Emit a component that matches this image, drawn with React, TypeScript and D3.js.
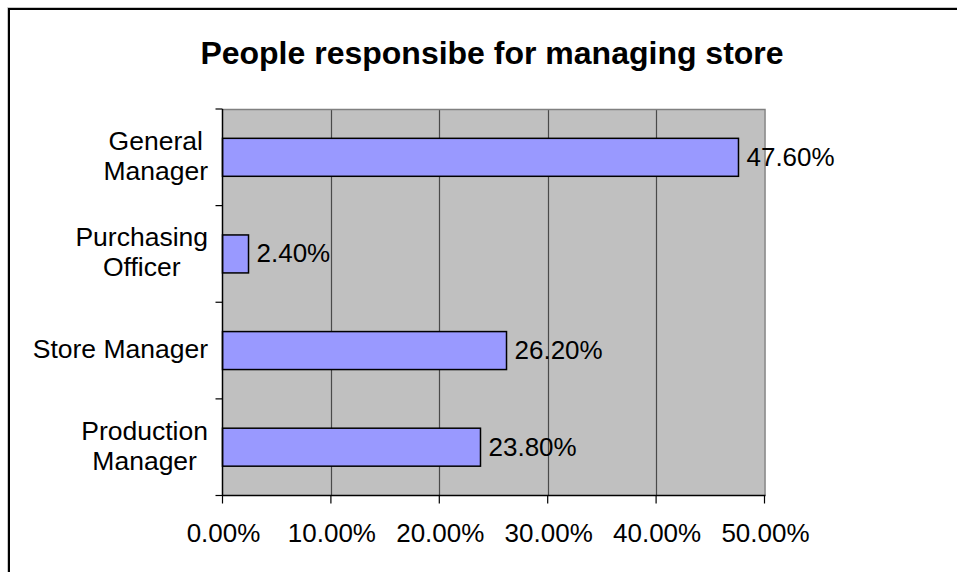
import React, { useEffect, useRef } from "react";
import * as d3 from "d3";

const title = "People responsibe for managing store";
const categories = ["General Manager", "Purchasing Officer", "Store Manager", "Production Manager"];
const categoryLines = [["General", "Manager"], ["Purchasing", "Officer"], ["Store Manager"], ["Production", "Manager"]];
const values = [0.476, 0.024, 0.262, 0.238];
const xTicks = [0, 0.1, 0.2, 0.3, 0.4, 0.5];

const FONT = "'Liberation Sans', Arial, Helvetica, sans-serif";

export default function App() {
  const ref = useRef<SVGSVGElement | null>(null);

  useEffect(() => {
    const svg = d3.select(ref.current);
    svg.selectAll("*").remove();
    const g = svg.append("g");

    const left = 222.5, right = 764.5, top = 109, bottom = 495.5;
    const x = d3.scaleLinear().domain([0, 0.5]).range([left, right]);
    const pi = 0.607;
    const y = d3.scaleBand<string>().domain(categories).range([top, bottom]).paddingInner(pi).paddingOuter(pi / 2);
    const step = y.step();

    // white page
    g.append("rect").attr("x", 0).attr("y", 0).attr("width", 957).attr("height", 572).attr("fill", "#fff");

    // outer chart border (only left and top edges are visible)
    g.append("path").attr("d", "M7.5,600V7.5H1000")
      .attr("fill", "none").attr("stroke", "#c8c8c8").attr("stroke-width", 1);
    g.append("path").attr("d", "M9,600V9H1000")
      .attr("fill", "none").attr("stroke", "#000").attr("stroke-width", 2);

    // title
    g.append("text").attr("x", 492).attr("y", 64).attr("text-anchor", "middle")
      .attr("font-family", FONT).attr("font-weight", "bold").attr("font-size", 32).attr("fill", "#000")
      .text(title);

    // plot area
    g.append("rect").attr("x", left).attr("y", top).attr("width", right - left).attr("height", bottom - top)
      .attr("fill", "#c0c0c0");
    // gridlines
    g.selectAll(".grid").data(xTicks.slice(1, -1)).enter().append("line")
      .attr("x1", (d) => Math.round(x(d)) + 0.5).attr("x2", (d) => Math.round(x(d)) + 0.5)
      .attr("y1", top).attr("y2", bottom).attr("stroke", "#4a4a4a").attr("stroke-width", 1.2);
    // top and right border (grey)
    g.append("path").attr("d", `M${left},${top + 0.5}H${right + 0.5}V${bottom}`)
      .attr("fill", "none").attr("stroke", "#808080").attr("stroke-width", 1.5);

    // bars
    g.selectAll(".bar").data(values).enter().append("rect")
      .attr("x", x(0)).attr("y", (_d, i) => y(categories[i])!)
      .attr("width", (d) => x(d) - x(0)).attr("height", y.bandwidth())
      .attr("fill", "#9999ff").attr("stroke", "#000").attr("stroke-width", 1.5);

    // axes
    g.append("line").attr("x1", left).attr("x2", left).attr("y1", top).attr("y2", bottom + 0.5)
      .attr("stroke", "#000").attr("stroke-width", 1.5);
    g.append("line").attr("x1", left).attr("x2", right + 1).attr("y1", bottom).attr("y2", bottom)
      .attr("stroke", "#000").attr("stroke-width", 1.5);
    // y ticks at category boundaries
    g.selectAll(".ytick").data(d3.range(categories.length + 1)).enter().append("line")
      .attr("x1", left - 7).attr("x2", left).attr("y1", (i) => top + i * step).attr("y2", (i) => top + i * step)
      .attr("stroke", "#000").attr("stroke-width", 1.2);
    // x ticks
    g.selectAll(".xtick").data(xTicks).enter().append("line")
      .attr("x1", (d) => x(d)).attr("x2", (d) => x(d)).attr("y1", bottom).attr("y2", bottom + 8)
      .attr("stroke", "#000").attr("stroke-width", 1.2);
    // x tick labels
    g.selectAll(".xlab").data(xTicks).enter().append("text")
      .attr("x", (d) => x(d) + 1).attr("y", 542).attr("text-anchor", "middle")
      .attr("font-family", FONT).attr("font-size", 26).attr("fill", "#000")
      .text((d) => d3.format(".2%")(d));

    // category labels: block right-aligned, lines centered within block
    const labelRight = 208;
    categoryLines.forEach((lines, i) => {
      const c = (y(categories[i]) as number) + y.bandwidth() / 2;
      const tg = g.append("g");
      const texts = lines.map((ln) =>
        tg.append("text").attr("font-family", FONT).attr("font-size", 26.5).attr("fill", "#000")
          .attr("text-anchor", "middle").text(ln)
      );
      const widths = texts.map((t) => (t.node() as SVGTextElement).getComputedTextLength());
      const maxW = Math.max(...widths);
      const cx = labelRight - maxW / 2;
      const lh = 30;
      const first = c + 9 - ((lines.length - 1) * lh) / 2 - 1.5;
      texts.forEach((t, k) => t.attr("x", cx).attr("y", first + k * lh));
    });

    // data labels
    g.selectAll(".dlab").data(values).enter().append("text")
      .attr("x", (d) => x(d) + 8).attr("y", (_d, i) => (y(categories[i]) as number) + y.bandwidth() / 2 + 8.5)
      .attr("font-family", FONT).attr("font-size", 26).attr("fill", "#000")
      .text((d) => d3.format(".2%")(d));
  }, []);

  return (
    <svg
      ref={ref}
      width={957}
      height={572}
      style={{ display: "block", position: "fixed", left: 0, top: 0 }}
    />
  );
}
